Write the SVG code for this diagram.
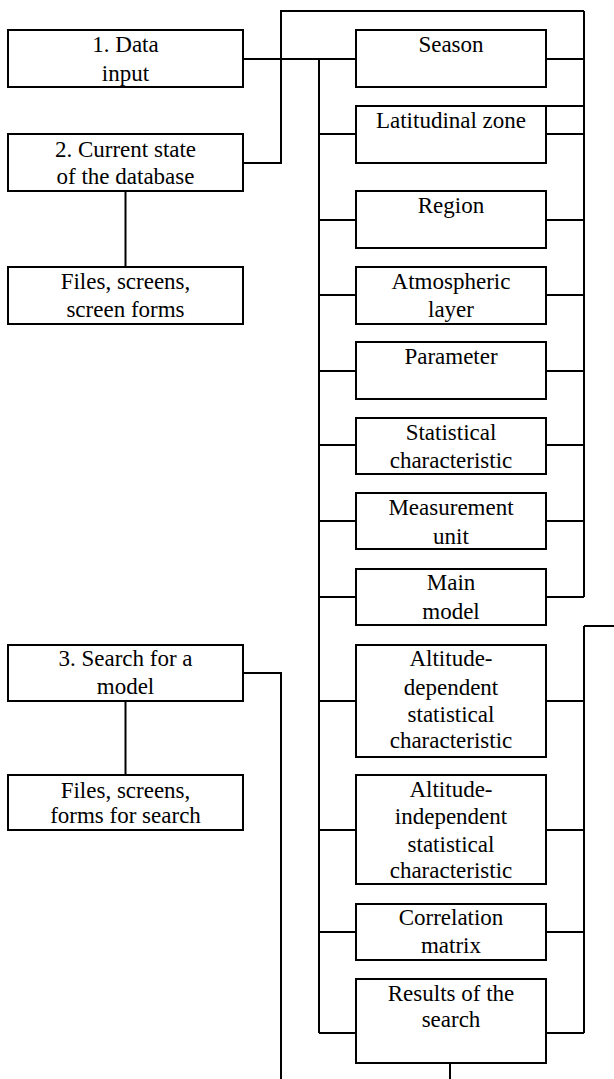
<svg xmlns="http://www.w3.org/2000/svg" width="614" height="1079" viewBox="0 0 614 1079">
<style>
.b{fill:#fff;stroke:#000;stroke-width:2}
.c{fill:none;stroke:#000;stroke-width:2}
.t text{font-size:23px;fill:#000;text-anchor:middle}
</style>
<rect width="614" height="1079" fill="#fff"/>
<g id="connectors" class="c">
<path d="M243 59H356M319 59V1033"/>
<path d="M319 134H356M319 220H356M319 295H356M319 371H356M319 445H356M319 521H356M319 597H356M319 701H356M319 830H356M319 932H356M319 1033H356"/>
<path d="M584 11V597M584 626V1033M584 626H614"/>
<path d="M546 59H584M546 106H584M546 134H584M546 220H584M546 295H584M546 371H584M546 445H584M546 521H584M546 597H584M546 701H584M546 830H584M546 932H584M546 1033H584"/>
<path d="M243 163H281V11H584"/>
<path d="M243 673H281V1079"/>
<path d="M125.5 191V267M125.5 701V775M450 1063V1079"/>
</g>
<g class="t" font-family="'Liberation Serif', 'Times New Roman', 'DejaVu Serif', serif">
<g id="n1"><rect class="b" x="8" y="30" width="235" height="57"/><text x="125.5" y="52">1. Data</text><text x="125.5" y="81">input</text></g>
<g id="n2"><rect class="b" x="8" y="134" width="235" height="57"/><text x="125.5" y="157">2. Current state</text><text x="125.5" y="184">of the database</text></g>
<g id="n2f"><rect class="b" x="8" y="267" width="235" height="57"/><text x="125.5" y="289">Files, screens,</text><text x="125.5" y="317">screen forms</text></g>
<g id="n3"><rect class="b" x="8" y="645" width="235" height="56"/><text x="125.5" y="666">3. Search for a</text><text x="125.5" y="694">model</text></g>
<g id="n3f"><rect class="b" x="8" y="775" width="235" height="55"/><text x="125.5" y="798">Files, screens,</text><text x="125.5" y="823">forms for search</text></g>
<g id="season"><rect class="b" x="356" y="30" width="190" height="57"/><text x="451" y="52">Season</text></g>
<g id="lat"><rect class="b" x="356" y="106" width="190" height="57"/><text x="451" y="128">Latitudinal zone</text></g>
<g id="region"><rect class="b" x="356" y="191" width="190" height="57"/><text x="451" y="213">Region</text></g>
<g id="atmo"><rect class="b" x="356" y="267" width="190" height="57"/><text x="451" y="289">Atmospheric</text><text x="451" y="317">layer</text></g>
<g id="param"><rect class="b" x="356" y="342" width="190" height="57"/><text x="451" y="364">Parameter</text></g>
<g id="stat"><rect class="b" x="356" y="418" width="190" height="56"/><text x="451" y="440">Statistical</text><text x="451" y="468">characteristic</text></g>
<g id="meas"><rect class="b" x="356" y="493" width="190" height="56"/><text x="451" y="515">Measurement</text><text x="451" y="544">unit</text></g>
<g id="main"><rect class="b" x="356" y="569" width="190" height="56"/><text x="451" y="590">Main</text><text x="451" y="619">model</text></g>
<g id="altdep"><rect class="b" x="356" y="645" width="190" height="112"/><text x="451" y="666">Altitude-</text><text x="451" y="695">dependent</text><text x="451" y="722">statistical</text><text x="451" y="748">characteristic</text></g>
<g id="altindep"><rect class="b" x="356" y="775" width="190" height="109"/><text x="451" y="797">Altitude-</text><text x="451" y="824">independent</text><text x="451" y="852">statistical</text><text x="451" y="878">characteristic</text></g>
<g id="corr"><rect class="b" x="356" y="904" width="190" height="56"/><text x="451" y="925">Correlation</text><text x="451" y="953">matrix</text></g>
<g id="results"><rect class="b" x="356" y="979" width="190" height="84"/><text x="451" y="1001">Results of the</text><text x="451" y="1027">search</text></g>
</g>
</svg>
